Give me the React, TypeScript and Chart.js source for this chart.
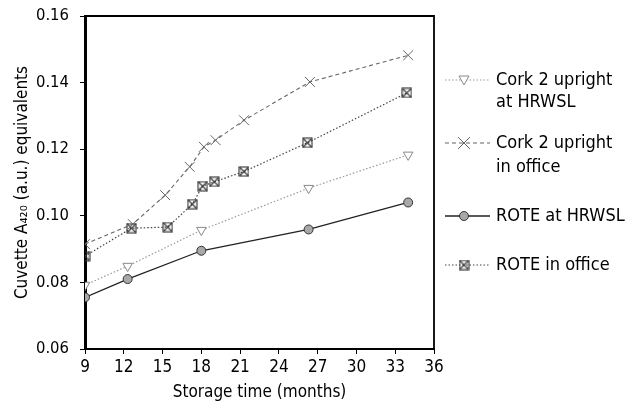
import React, { useEffect, useRef } from "react";
import { Chart, registerables } from "chart.js";

Chart.register(...registerables);

const xCork2Hrwsl = [9, 12.3, 18, 26.3, 34];
const yCork2Hrwsl = [0.0792, 0.0849, 0.0957, 0.1083, 0.1183];

const xCork2Office = [9, 12.7, 15.2, 17.1, 18.2, 19.1, 21.3, 26.4, 34];
const yCork2Office = [0.0915, 0.0975, 0.1062, 0.1147, 0.1207, 0.1227, 0.1287, 0.1402, 0.1482];

const xRoteHrwsl = [9, 12.3, 18, 26.3, 34];
const yRoteHrwsl = [0.0755, 0.081, 0.0895, 0.0959, 0.104];

const xRoteOffice = [9, 12.6, 15.4, 17.3, 18.1, 19, 21.3, 26.2, 33.9];
const yRoteOffice = [0.0879, 0.0963, 0.0966, 0.1035, 0.1089, 0.1102, 0.1133, 0.1219, 0.1369];

const legendLabels = [
  ["Cork 2 upright", "at HRWSL"],
  ["Cork 2 upright", "in office"],
  ["ROTE at HRWSL"],
  ["ROTE in office"],
];

const xTitle = "Storage time (months)";
const yTitle = "Cuvette A\u2084\u2082\u2080 (a.u.) equivalents";

const FONT = "'Liberation Sans Narrow', 'DejaVu Sans Condensed', 'Roboto', sans-serif";

function zip(xs: number[], ys: number[]) {
  return xs.map((x, i) => ({ x, y: ys[i] }));
}

function makeBoxX(size: number, color: string) {
  const c = document.createElement("canvas");
  c.width = size;
  c.height = size;
  const ctx = c.getContext("2d")!;
  ctx.strokeStyle = color;
  ctx.lineWidth = 1.1;
  const p = 1;
  ctx.strokeRect(p, p, size - 2 * p, size - 2 * p);
  ctx.beginPath();
  ctx.moveTo(p, p);
  ctx.lineTo(size - p, size - p);
  ctx.moveTo(size - p, p);
  ctx.lineTo(p, size - p);
  ctx.stroke();
  return c;
}

export default function App() {
  const ref = useRef<HTMLCanvasElement>(null);

  useEffect(() => {
    const canvas = ref.current!;
    const boxX = makeBoxX(11, "#333");

    const styles = [
      { color: "#9a9a9a", dash: [1.5, 2], width: 1.2 },
      { color: "#666", dash: [4, 3], width: 1.1 },
      { color: "#222", dash: [], width: 1.3 },
      { color: "#444", dash: [1.5, 2], width: 1.2 },
    ];

    const frame = {
      id: "frame",
      beforeDatasetsDraw(chart: any) {
        const { ctx, chartArea: a } = chart;
        ctx.save();
        ctx.strokeStyle = "#000";
        ctx.lineWidth = 1.8;
        ctx.beginPath();
        ctx.moveTo(a.left, a.top);
        ctx.lineTo(a.right, a.top);
        ctx.lineTo(a.right, a.bottom);
        ctx.stroke();
        ctx.restore();
      },
    };

    const legendPlugin = {
      id: "customLegend",
      afterDraw(chart: any) {
        const ctx = chart.ctx;
        const rows = [
          [80, 102],
          [143, 167],
          [216],
          [265],
        ];
        const x0 = 445;
        const x1 = 490;
        const mx = 464;
        ctx.save();
        rows.forEach((ys, i) => {
          const s = styles[i];
          const y = ys[0];
          ctx.strokeStyle = s.color;
          ctx.lineWidth = s.width;
          ctx.setLineDash(s.dash);
          ctx.beginPath();
          ctx.moveTo(x0, y);
          ctx.lineTo(x1, y);
          ctx.stroke();
          ctx.setLineDash([]);
          ctx.lineWidth = 1;
          if (i === 0) {
            ctx.strokeStyle = "#888";
            ctx.fillStyle = "#fff";
            ctx.beginPath();
            ctx.moveTo(mx - 5, y - 4);
            ctx.lineTo(mx + 5, y - 4);
            ctx.lineTo(mx, y + 5);
            ctx.closePath();
            ctx.fill();
            ctx.stroke();
          } else if (i === 1) {
            ctx.strokeStyle = "#666";
            ctx.beginPath();
            ctx.moveTo(mx - 6, y - 6);
            ctx.lineTo(mx + 6, y + 6);
            ctx.moveTo(mx + 6, y - 6);
            ctx.lineTo(mx - 6, y + 6);
            ctx.stroke();
          } else if (i === 2) {
            ctx.strokeStyle = "#333";
            ctx.fillStyle = "#a8a8a8";
            ctx.beginPath();
            ctx.arc(mx, y, 4.5, 0, Math.PI * 2);
            ctx.fill();
            ctx.stroke();
          } else {
            ctx.drawImage(boxX, mx - 5.5, y - 5.5);
          }
          ctx.fillStyle = "#000";
          ctx.font = `18px ${FONT}`;
          ctx.textBaseline = "middle";
          ctx.textAlign = "left";
          legendLabels[i].forEach((t, k) => {
            ctx.fillText(t, 496, ys[k]);
          });
        });
        ctx.restore();
      },
    };

    const chart = new Chart(canvas, {
      type: "line",
      data: {
        datasets: [
          {
            label: legendLabels[0].join(" "),
            data: zip(xCork2Hrwsl, yCork2Hrwsl),
            borderColor: styles[0].color,
            borderDash: styles[0].dash,
            borderWidth: styles[0].width,
            pointStyle: "triangle",
            rotation: 180,
            pointRadius: 5.5,
            pointBackgroundColor: "#fff",
            pointBorderColor: "#888",
            pointBorderWidth: 1,
          },
          {
            label: legendLabels[1].join(" "),
            data: zip(xCork2Office, yCork2Office),
            borderColor: styles[1].color,
            borderDash: styles[1].dash,
            borderWidth: styles[1].width,
            pointStyle: "crossRot",
            pointRadius: 7,
            pointBorderColor: "#666",
            pointBorderWidth: 1,
          },
          {
            label: legendLabels[2].join(" "),
            data: zip(xRoteHrwsl, yRoteHrwsl),
            borderColor: styles[2].color,
            borderDash: styles[2].dash,
            borderWidth: styles[2].width,
            pointStyle: "circle",
            pointRadius: 4.5,
            pointBackgroundColor: "#a8a8a8",
            pointBorderColor: "#333",
            pointBorderWidth: 1,
          },
          {
            label: legendLabels[3].join(" "),
            data: zip(xRoteOffice, yRoteOffice),
            borderColor: styles[3].color,
            borderDash: styles[3].dash,
            borderWidth: styles[3].width,
            pointStyle: boxX as any,
            pointRadius: 6,
          },
        ],
      },
      options: {
        responsive: false,
        animation: false,
        layout: { padding: { top: 16, right: 197, left: 0, bottom: 0 } },
        plugins: {
          legend: { display: false },
          tooltip: { enabled: false },
        },
        scales: {
          x: {
            type: "linear",
            min: 9,
            max: 36,
            afterFit(scale: any) {
              scale.height = 65;
              scale.paddingLeft = 0;
              scale.paddingRight = 0;
            },
            ticks: {
              stepSize: 3,
              color: "#000",
              font: { family: FONT, size: 17 },
              padding: 3,
            },
            grid: { drawOnChartArea: false, tickLength: 5, color: "#000", lineWidth: 1 },
            border: { color: "#000", width: 2 },
            title: {
              display: true,
              text: xTitle,
              color: "#000",
              font: { family: FONT, size: 17 },
              padding: { top: 2, bottom: 11 },
            },
          },
          y: {
            type: "linear",
            min: 0.06,
            max: 0.16,
            afterFit(scale: any) {
              scale.width = 85;
              scale.paddingTop = 0;
              scale.paddingBottom = 0;
            },
            ticks: {
              stepSize: 0.02,
              color: "#000",
              font: { family: FONT, size: 16.5 },
              padding: 11,
              callback: (v: any) => Number(v).toFixed(2),
            },
            grid: { drawOnChartArea: false, tickLength: 5, color: "#000", lineWidth: 1 },
            border: { color: "#000", width: 3 },
            title: {
              display: true,
              text: yTitle,
              color: "#000",
              font: { family: FONT, size: 17 },
              padding: { top: 12, bottom: 0 },
            },
          },
        },
      },
      plugins: [frame, legendPlugin],
    });

    return () => chart.destroy();
  }, []);

  return (
    <div style={{ position: "absolute", left: 0, top: 0, width: 631, height: 414, background: "#fff" }}>
      <canvas ref={ref} width={631} height={414} />
    </div>
  );
}
